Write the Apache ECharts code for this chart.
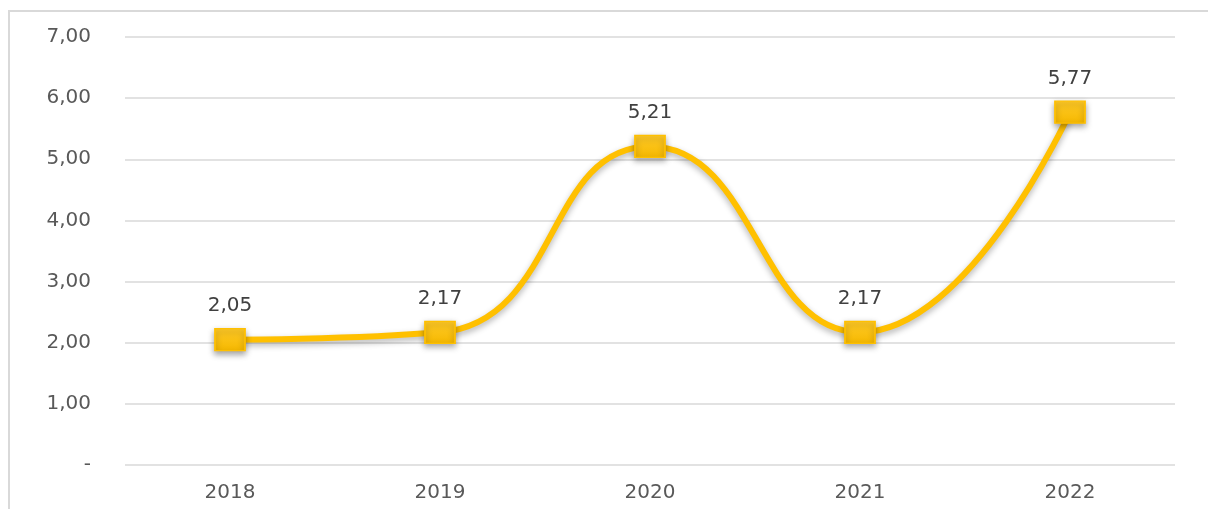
<!DOCTYPE html>
<html>
<head>
<meta charset="utf-8">
<script src="https://cdn.jsdelivr.net/npm/echarts@6/dist/echarts.min.js"></script>
<style>
  html, body { margin: 0; padding: 0; background: #fff; }
  #chart { width: 1208px; height: 509px; }
</style>
</head>
<body>
<div id="chart"></div>
<script>
// données
var years = ['2018', '2019', '2020', '2021', '2022'];
var values = [2.05, 2.17, 5.21, 2.17, 5.77];
var yTicks = [0, 1, 2, 3, 4, 5, 6, 7];

function fmt(v) {
    if (v === 0) return '-';
    return v.toFixed(2).replace('.', ',');
}

var myChart = echarts.init(document.getElementById('chart'));
myChart.setOption({
    backgroundColor: '#fff',
    animation: false,
    textStyle: { fontFamily: 'DejaVu Sans' },
    // cadre gris clair
    graphic: [{
        type: 'rect',
        shape: { x: 9, y: 11, width: 1260, height: 560 },
        style: { fill: 'none', stroke: '#d9d9d9', lineWidth: 2 },
        silent: true
    }],
    grid: { left: 125, right: 33, top: 37, bottom: 44 },
    xAxis: {
        type: 'category',
        data: years,
        boundaryGap: true,
        axisLine: { show: false },
        axisTick: { show: false },
        axisLabel: { color: '#595959', fontSize: 20, margin: 18 }
    },
    yAxis: {
        type: 'value',
        min: yTicks[0],
        max: yTicks[yTicks.length - 1],
        interval: 1,
        axisLine: { show: false },
        axisTick: { show: false },
        splitLine: { lineStyle: { color: '#d9d9d9', width: 1.5 } },
        axisLabel: {
            color: '#595959', fontSize: 20, margin: 34,
            formatter: function (v) { return fmt(v); }
        }
    },
    series: [{
        type: 'line',
        data: values,
        smooth: 0.5,
        symbol: 'rect',
        symbolSize: [30, 22],
        lineStyle: {
            color: '#ffc000', width: 6,
            shadowColor: 'rgba(0,0,0,0.3)', shadowBlur: 6, shadowOffsetY: 3
        },
        itemStyle: {
            color: new echarts.graphic.LinearGradient(0, 0, 0, 1, [
                { offset: 0, color: '#ffca28' },
                { offset: 1, color: '#f5b800' }
            ]),
            borderColor: '#ffc000', borderWidth: 1.5,
            shadowColor: 'rgba(0,0,0,0.35)', shadowBlur: 6, shadowOffsetY: 3
        },
        label: {
            show: true, position: 'top', distance: 12,
            color: '#404040', fontSize: 20,
            formatter: function (p) { return fmt(p.value); }
        }
    }]
});
</script>
</body>
</html>
